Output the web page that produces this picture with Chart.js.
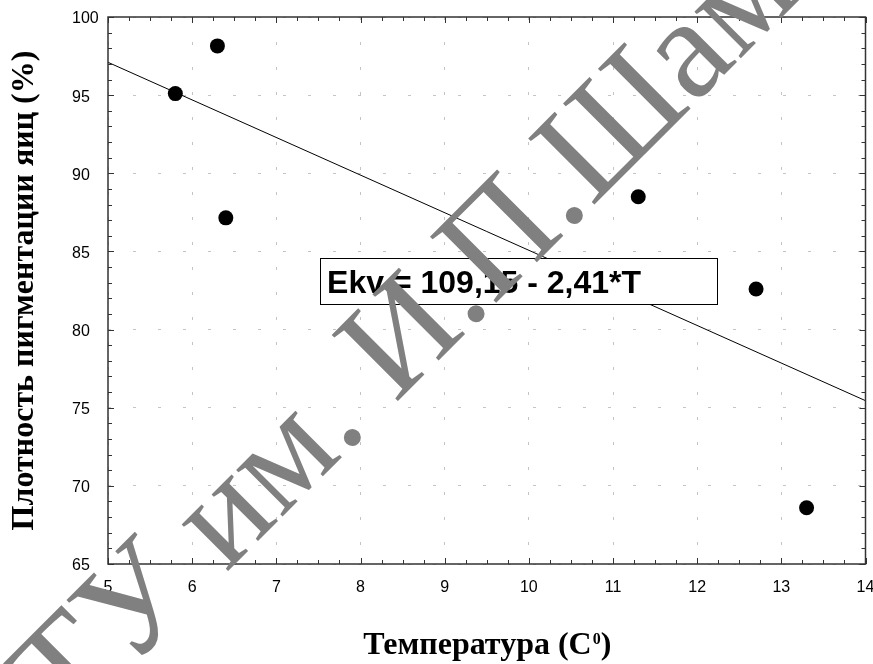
<!DOCTYPE html>
<html>
<head>
<meta charset="utf-8">
<script src="https://cdn.jsdelivr.net/npm/chart.js@4.4.1/dist/chart.umd.min.js"></script>
<style>
  html,body{margin:0;padding:0;background:#fff}
  #wrap{width:873px;height:664px}
</style>
</head>
<body>
<div id="wrap"><canvas id="c" width="873" height="664"></canvas></div>
<script>
// data
const tempX    = [5.8, 6.3, 6.4, 11.3, 12.7, 13.3];
const densityY = [95.1, 98.15, 87.15, 88.5, 82.6, 68.6];
// regression line end points (Ekv = 109,15 - 2,41*T)
const fitX = [5, 14];
const fitY = [97.1, 75.45];

const xTicks = {min:5, max:14, step:1, minor:0.25};
const yTicks = {min:65, max:100, step:5, minor:1};

const eqText = 'Ekv = 109,15 - 2,41*T';
const eqBox  = {x1:7.52, x2:12.24, yTop:84.57, yBot:81.63};

const xTitle = ['Температура (C', '0', ')'];
const yTitle = 'Плотность пигментации яиц (%)';
const watermark = 'ТУ им. И.П.Шамякина';

const frame = {
  id:'frame',
  afterDatasetsDraw(chart){
    const {ctx, chartArea:a, scales:{x,y}} = chart;
    ctx.save();
    ctx.strokeStyle = '#333'; ctx.lineWidth = 1;
    ctx.beginPath();
    for(let v=xTicks.min; v<=xTicks.max+1e-6; v+=xTicks.minor){
      const px = Math.round(x.getPixelForValue(v))+0.5;
      const L = Math.abs(v-Math.round(v))<1e-6 ? 6 : 4;
      ctx.moveTo(px,a.bottom); ctx.lineTo(px,a.bottom-L);
      ctx.moveTo(px,a.top);    ctx.lineTo(px,a.top+L);
    }
    for(let v=yTicks.min; v<=yTicks.max+1e-6; v+=yTicks.minor){
      const py = Math.round(y.getPixelForValue(v))+0.5;
      const L = (v%yTicks.step)===0 ? 6 : 4;
      ctx.moveTo(a.left,py);  ctx.lineTo(a.left+L,py);
      ctx.moveTo(a.right,py); ctx.lineTo(a.right-L,py);
    }
    ctx.stroke();
    ctx.lineWidth = 1.5;
    ctx.strokeRect(a.left, a.top, a.right-a.left, a.bottom-a.top);

    // equation box
    const bx1 = x.getPixelForValue(eqBox.x1), bx2 = x.getPixelForValue(eqBox.x2);
    const by1 = y.getPixelForValue(eqBox.yTop), by2 = y.getPixelForValue(eqBox.yBot);
    ctx.fillStyle = '#fff';
    ctx.fillRect(bx1, by1, bx2-bx1, by2-by1);
    ctx.lineWidth = 1; ctx.strokeStyle = '#000';
    ctx.strokeRect(Math.round(bx1)+0.5, Math.round(by1)+0.5, Math.round(bx2-bx1), Math.round(by2-by1));
    ctx.fillStyle = '#000';
    ctx.font = 'bold 32px "Liberation Sans", Arial, sans-serif';
    ctx.textBaseline = 'alphabetic'; ctx.textAlign = 'left';
    ctx.fillText(eqText, bx1+7, by2-11);
    ctx.restore();
  },
  afterDraw(chart){
    const {ctx, chartArea:a, scales:{y}} = chart;
    ctx.save();
    // y tick labels, left aligned like the original
    ctx.fillStyle = '#000';
    ctx.font = '16px "Liberation Sans", Arial, sans-serif';
    ctx.textAlign = 'left'; ctx.textBaseline = 'middle';
    y.ticks.forEach(t => ctx.fillText(String(t.value), 72, y.getPixelForValue(t.value)+2));

    // x axis title with superscript
    ctx.textBaseline = 'alphabetic';
    const big = 'bold 32px "Liberation Serif", "Times New Roman", serif';
    const small = 'bold 16px "Liberation Serif", "Times New Roman", serif';
    ctx.font = big;  const w1 = ctx.measureText(xTitle[0]).width, w3 = ctx.measureText(xTitle[2]).width;
    ctx.font = small; const w2 = ctx.measureText(xTitle[1]).width;
    let tx = (a.left+a.right)/2 - (w1+w2+w3)/2;
    const base = 654;
    ctx.font = big; ctx.fillText(xTitle[0], tx, base); tx += w1;
    ctx.font = small; ctx.fillText(xTitle[1], tx+1, base-10); tx += w2+1;
    ctx.font = big; ctx.fillText(xTitle[2], tx, base);

    // watermark, on top of everything
    ctx.font = '143px "Liberation Serif", "Times New Roman", serif';
    ctx.fillStyle = '#808080';
    const pre = ctx.measureText('ТУ им').width, dot = ctx.measureText('.').width;
    const d = (pre + dot/2)/Math.SQRT2;
    ctx.translate(357-d, 442+d);
    ctx.rotate(-Math.PI/4);
    ctx.fillText(watermark, 0, 0);
    ctx.restore();
  }
};

new Chart(document.getElementById('c'), {
  type:'scatter',
  data:{ datasets:[
    { type:'line', data: fitX.map((v,i)=>({x:v, y:fitY[i]})),
      borderColor:'#000', borderWidth:1, pointRadius:0, fill:false, order:2 },
    { data: tempX.map((v,i)=>({x:v, y:densityY[i]})),
      backgroundColor:'#000', borderColor:'#000', borderWidth:0,
      pointRadius:7.5, pointHoverRadius:7.5, order:1 }
  ]},
  options:{
    responsive:false, animation:false, events:[],
    layout:{ padding:{top:17, right:7, left:0, bottom:0} },
    plugins:{ legend:{display:false}, tooltip:{enabled:false} },
    scales:{
      x:{ type:'linear', min:xTicks.min, max:xTicks.max,
          ticks:{ stepSize:xTicks.step, color:'#000', padding:14, maxRotation:0,
                  font:{ family:'"Liberation Sans", Arial, sans-serif', size:16 } },
          grid:{ color:'#c4c4c4', lineWidth:1, drawTicks:false },
          border:{ display:false, dash:[3,22] },
          afterFit(s){ s.height = 100; s.paddingLeft = 0; s.paddingRight = 0; } },
      y:{ type:'linear', min:yTicks.min, max:yTicks.max,
          ticks:{ stepSize:yTicks.step, color:'rgba(0,0,0,0)', padding:17,
                  font:{ family:'"Liberation Sans", Arial, sans-serif', size:16 } },
          grid:{ color:'#c4c4c4', lineWidth:1, drawTicks:false },
          border:{ display:false, dash:[3,22] },
          title:{ display:true, text:yTitle, color:'#000', padding:{top:6, bottom:0},
                  font:{ family:'"Liberation Serif", "Times New Roman", serif', size:32, weight:'bold' } },
          afterFit(s){ s.width = 108; s.paddingTop = 0; s.paddingBottom = 0; } }
    }
  },
  plugins:[frame]
});
</script>
</body>
</html>
